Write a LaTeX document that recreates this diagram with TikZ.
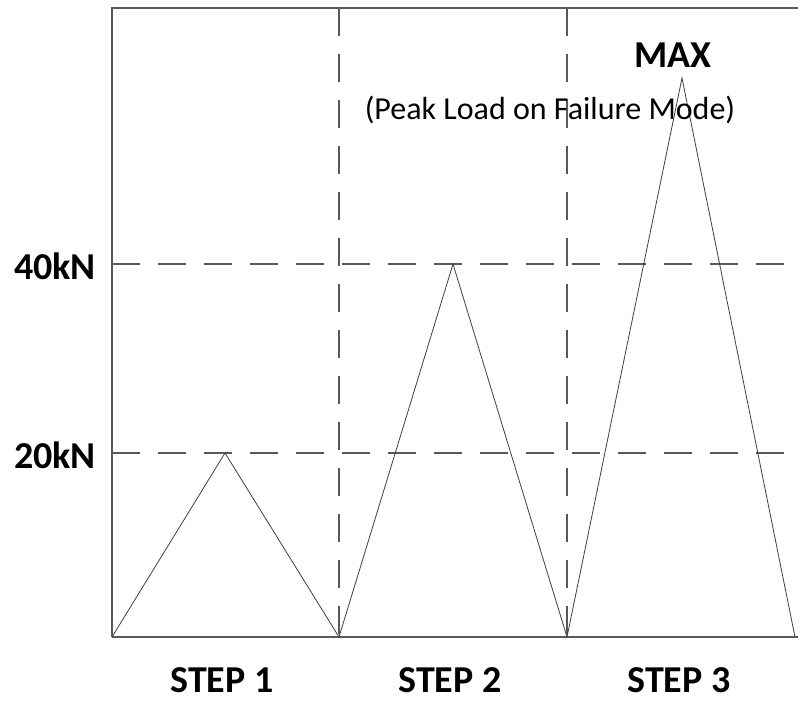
\documentclass[tikz,border=0pt]{standalone}
\usepackage{fontspec}
\setmainfont{Carlito}
\begin{document}
\begin{tikzpicture}[x=1pt,y=-1pt,
  ln/.style={line width=1.2pt,draw=black!65},
  dsh/.style={line width=1.4pt,draw=black!65,dash pattern=on 28pt off 18pt},
  lbl/.style={font=\bfseries\fontsize{38}{40}\selectfont,inner sep=0pt},
  tri/.style={line width=0.8pt,draw=black!75}]
\useasboundingbox (0,0) rectangle (800,702);
\fill[white] (0,0) rectangle (800,702);
\coordinate (tl) at (112,8); \coordinate (tr) at (798,8);
\coordinate (bl) at (112,637); \coordinate (br) at (798,637);
\draw[ln] (bl) -- (tl) -- (tr);
\draw[ln] (bl) -- (br);
\draw[dsh] (339,8) -- (339,637);
\draw[dsh] (567,8) -- (567,637);
\draw[dsh] (112,264) -- (798,264);
\draw[dsh] (112,453) -- (798,453);
\coordinate (a0) at (112,637); \coordinate (p1) at (225,453);
\coordinate (a1) at (339,637); \coordinate (p2) at (453,264);
\coordinate (a2) at (567,637); \coordinate (p3) at (682,78);
\coordinate (a3) at (795,637);
\draw[tri] (a0)--(p1)--(a1)--(p2)--(a2)--(p3)--(a3);
\node[lbl,anchor=east] (y40) at (96,266) {40kN};
\node[lbl,anchor=east] (y20) at (96,455) {20kN};
\node[lbl] (s1) at (222,680) {STEP 1};
\node[lbl] (s2) at (450,680) {STEP 2};
\node[lbl] (s3) at (679,680) {STEP 3};
\node[lbl] (mx) at (673,55) {MAX};
\node[inner sep=0pt,font=\fontsize{32}{34}\selectfont] (pk) at (550,110) {(Peak Load on Failure Mode)};
\end{tikzpicture}
\end{document}
